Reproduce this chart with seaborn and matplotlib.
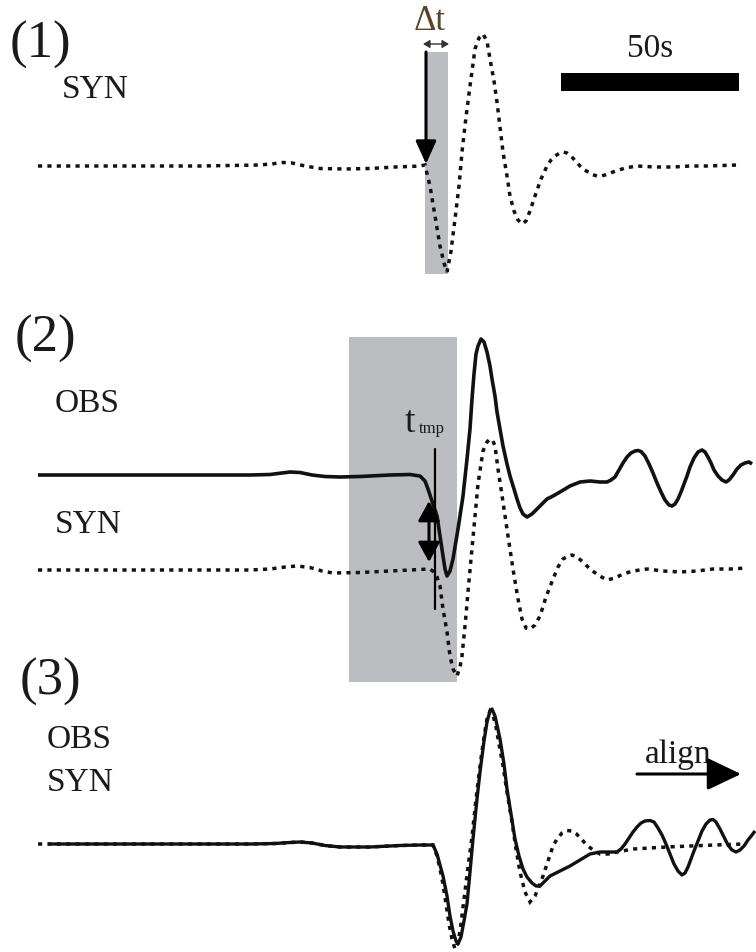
import matplotlib
matplotlib.use("Agg")
import matplotlib.pyplot as plt
import seaborn as sns
from matplotlib.patches import Rectangle

sns.set_style("white")
plt.rcParams["font.family"] = ["Liberation Serif", "DejaVu Serif"]

# ---- waveform samples (canvas pixel coordinates, y downward) ----
# panel 1: synthetic trace
syn1_x = [38, 100, 200, 260, 275, 283, 292, 305, 320, 345, 370, 395, 410, 420, 425,
          430, 435, 440, 444, 447, 451, 455, 459, 462, 466, 470, 475, 479, 483, 487,
          490, 494, 497, 500, 503, 507, 510, 514, 518, 522, 526, 530, 535, 541, 547,
          551, 555, 559, 563, 567, 571, 575, 580, 584, 588, 592, 597, 601, 605, 609,
          613, 619, 625, 631, 637, 655, 673, 690, 707, 722, 738]
syn1_y = [167, 167, 167, 166, 164.5, 163.5, 164, 167, 169.5, 170, 169.5, 168, 167.5, 167, 166,
          187, 217, 247, 264, 273, 252, 220, 187, 153, 118, 87, 50, 39, 35, 42,
          60, 82, 103, 128, 153, 177, 197, 212, 221, 225, 222, 212, 197, 180, 167,
          161, 157, 154.5, 153, 154, 157, 161.5, 167, 170.5, 173, 175.5, 177, 177, 176, 174.5,
          173, 171, 169, 168, 167, 168, 168, 167, 167, 166.5, 166]

# panel 2: observed trace
obs2_x = [38, 150, 250, 270, 282, 290, 300, 312, 325, 340, 360, 390, 410, 420, 425,
          428, 433, 437, 440, 443, 445, 447, 450, 453, 458, 463, 467, 470, 472, 474,
          476, 478, 481, 484, 487, 490, 492, 495, 497, 500, 503, 507, 510, 514, 517,
          520, 523, 527, 532, 537, 542, 547, 553, 560, 570, 580, 590, 600, 607, 611,
          615, 619, 623, 627, 631, 635, 638, 641, 645, 649, 653, 657, 661, 665, 669,
          672, 675, 678, 681, 684, 687, 690, 694, 698, 702, 705, 708, 711, 714, 718,
          722, 726, 729, 733, 737, 741, 745, 749, 752]
obs2_y = [476, 476, 476, 475.5, 474, 473, 473.5, 476, 477.5, 478, 477.5, 476, 475.5, 477, 482,
          490, 505, 517, 537, 557, 570, 577, 572, 560, 530, 497, 460, 430, 400, 375,
          355, 347, 340, 343, 353, 367, 380, 397, 413, 430, 447, 465, 477, 490, 500,
          509, 515, 518, 515, 510, 505, 500, 497, 493, 487, 483, 482, 483, 483, 481,
          478, 471, 464, 458, 454, 452, 451.5, 452.5, 457, 465, 474, 484, 493, 501, 506,
          507, 505, 500, 493, 485, 477, 468, 459, 453, 451, 453, 458, 464, 471, 477,
          481, 483, 481, 476, 470, 466, 464, 463, 465]

# panel 2: synthetic trace
syn2_x = [38, 150, 250, 270, 285, 297, 310, 322, 333, 360, 390, 420, 430, 434, 437,
          440, 443, 447, 450, 453, 457, 460, 462, 465, 468, 471, 474, 478, 483, 487,
          490, 493, 495, 498, 503, 508, 513, 518, 522, 526, 530, 535, 540, 546, 553,
          558, 563, 568, 572, 577, 583, 590, 598, 607, 615, 623, 633, 647, 663, 680,
          697, 713, 730, 747]
syn2_y = [571, 571, 571, 570, 568, 567, 568.5, 572, 574, 573.5, 572, 570.5, 570, 573, 578,
          587, 610, 633, 657, 670, 677, 668, 657, 627, 593, 560, 528, 485, 452, 443,
          440, 442, 447, 470, 503, 537, 570, 600, 620, 629, 630, 626, 617, 598, 580,
          568, 560, 557, 556, 558, 563, 570, 576, 581, 579, 575, 572, 570, 572, 573,
          572, 570, 570, 569]

# panel 3: observed trace after alignment
obs3_x = [48, 150, 250, 275, 290, 300, 312, 325, 340, 370, 400, 420, 433, 437, 440,
          443, 447, 450, 453, 456, 458, 461, 464, 467, 470, 473, 477, 480, 484, 487,
          490, 492, 495, 497, 500, 504, 507, 511, 515, 519, 523, 527, 532, 536, 540,
          545, 550, 560, 570, 580, 590, 600, 610, 617, 621, 625, 629, 633, 637, 641,
          645, 650, 654, 658, 662, 666, 670, 674, 678, 682, 685, 688, 691, 694, 698,
          702, 706, 710, 713, 716, 720, 724, 728, 732, 736, 740, 744, 748, 752, 755]
obs3_y = [845, 845, 845, 844.5, 843.5, 843, 844, 846.5, 848, 848, 846.5, 846, 846, 855, 866,
          877, 897, 917, 932, 942, 945, 938, 922, 905, 873, 840, 800, 773, 742, 723,
          712, 710, 717, 726, 740, 765, 790, 815, 840, 857, 870, 878, 884, 887, 887,
          882, 877, 872, 867, 861, 855, 853, 853, 853, 850, 845, 839, 833, 828, 824,
          822, 821.5, 823, 829, 836, 845, 855, 865, 872, 876, 874, 868, 860, 852, 842,
          832, 825, 821, 820.5, 823, 830, 838, 846, 851, 853, 851, 847, 841, 836, 832]

# panel 3: synthetic trace
syn3_x = [38, 150, 250, 275, 290, 300, 312, 325, 340, 370, 400, 420, 433, 437, 440,
          443, 446, 449, 452, 455, 458, 461, 464, 468, 472, 476, 480, 484, 487, 490,
          493, 496, 499, 503, 507, 512, 516, 520, 525, 530, 535, 540, 543, 548, 553,
          557, 562, 567, 572, 576, 580, 584, 588, 593, 600, 608, 617, 633, 650, 667,
          690, 715, 743]
syn3_y = [845, 845, 845, 844.5, 843.5, 843, 844, 846.5, 848, 848, 846.5, 846, 846, 857, 870,
          885, 905, 925, 940, 950, 944, 925, 900, 868, 838, 800, 767, 738, 720, 712,
          716, 728, 745, 767, 793, 823, 850, 873, 893, 903, 897, 885, 877, 862, 847,
          840, 834, 831.5, 832, 834.5, 838.5, 843, 847, 851, 855, 855, 853, 850, 849, 848,
          847, 846, 845]

# ---- labels ----
panel_tags = ["(1)", "(2)", "(3)"]
trace_names = ["OBS", "SYN"]
scale_label = "50s"
shift_label = "\u0394t"
pick_label, pick_sub = "t", "tmp"
align_label = "align"

W, H = 756, 953
fig = plt.figure(figsize=(W / 100, H / 100), dpi=100)
ax = fig.add_axes([0, 0, 1, 1])
ax.set_xlim(0, W)
ax.set_ylim(H, 0)
ax.axis("off")

gray = "#bcbdc0"
dot_style = (0, (1.2, 1.5))

# shaded windows
ax.add_patch(Rectangle((425, 53), 23, 222, color=gray, lw=0, zorder=0))
ax.add_patch(Rectangle((349, 338), 108, 345, color=gray, lw=0, zorder=0))

def trace(xs, ys, dotted, lw):
    if dotted:
        kw = dict(linestyle=dot_style, dash_capstyle="butt", dash_joinstyle="miter")
    else:
        kw = dict(solid_capstyle="butt", solid_joinstyle="round")
    sns.lineplot(x=xs, y=ys, ax=ax, color="#111111", lw=lw, sort=False,
                 estimator=None, zorder=2, **kw)

trace(syn1_x, syn1_y, True, 2.5)
trace(obs2_x, obs2_y, False, 2.6)
trace(syn2_x, syn2_y, True, 2.5)
trace(obs3_x, obs3_y, False, 2.4)
trace(syn3_x, syn3_y, True, 2.5)

txt = dict(color="#1a1a1a", va="baseline", ha="left")
# panel tags
ax.text(10, 58, panel_tags[0], fontsize=38, **txt)
ax.text(15, 352, panel_tags[1], fontsize=38, **txt)
ax.text(20, 695, panel_tags[2], fontsize=38, **txt)

# trace names
ax.text(62, 98, trace_names[1], fontsize=24, **txt)
ax.text(55, 412, trace_names[0], fontsize=24, **txt)
ax.text(55, 533, trace_names[1], fontsize=24, **txt)
ax.text(47, 748, trace_names[0], fontsize=24, **txt)
ax.text(47, 791, trace_names[1], fontsize=24, **txt)

# scale bar
ax.add_patch(Rectangle((561, 74), 178, 18, color="black", lw=0, zorder=3))
ax.text(650, 57, scale_label, fontsize=24, color="#1a1a1a", ha="center", va="baseline")

# time shift marker in panel 1
ax.text(414, 30, shift_label, fontsize=25, color="#5c4426", ha="left", va="baseline")
ax.annotate("", xy=(449, 45), xytext=(423, 45),
            arrowprops=dict(arrowstyle="<|-|>,head_length=0.5,head_width=0.3",
                            lw=1.0, color="#333333", mutation_scale=8,
                            shrinkA=0, shrinkB=0), zorder=4)
ax.annotate("", xy=(426, 165), xytext=(426, 53),
            arrowprops=dict(arrowstyle="-|>,head_length=1.0,head_width=0.45",
                            lw=2.2, color="black", mutation_scale=14,
                            shrinkA=0, shrinkB=0), zorder=4)

# pick time in panel 2
ax.text(405, 432, pick_label, fontsize=27, color="#1a1a1a", ha="left", va="baseline")
ax.text(419, 433, pick_sub, fontsize=12, color="#1a1a1a", ha="left", va="baseline")
ax.plot([435, 435], [450, 610], color="black", lw=1.6, zorder=4)
ax.annotate("", xy=(429, 563), xytext=(429, 502),
            arrowprops=dict(arrowstyle="<|-|>,head_length=1.0,head_width=0.55",
                            lw=2.2, color="black", mutation_scale=12,
                            shrinkA=0, shrinkB=0), zorder=4)

# alignment arrow in panel 3
ax.text(645, 763, align_label, fontsize=24, **txt)
ax.annotate("", xy=(741, 775), xytext=(637, 775),
            arrowprops=dict(arrowstyle="-|>,head_length=1.05,head_width=0.5",
                            lw=2.2, color="black", mutation_scale=20,
                            shrinkA=0, shrinkB=0), zorder=4)

fig.savefig("out.png", dpi=100)
